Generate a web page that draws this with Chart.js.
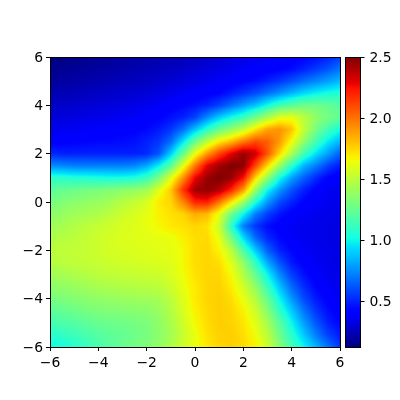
<!DOCTYPE html>
<html>
<head>
<meta charset="utf-8">
<script src="https://cdn.jsdelivr.net/npm/chart.js@4"></script>
<style>
  html, body { margin: 0; background: #fff; }
  canvas { position: absolute; left: 0; top: 0; }
</style>
</head>
<body>
<canvas id="heat" width="400" height="400"></canvas>
<canvas id="bar" width="400" height="400"></canvas>
<script>
const xVals = [-6,-5.5,-5,-4.5,-4,-3.5,-3,-2.5,-2,-1.5,-1,-.5,0,.5,1,1.5,2,2.5,3,3.5,4,4.5,5,5.5,6];
const yVals = [6,5.5,5,4.5,4,3.5,3,2.5,2,1.5,1,.5,0,-.5,-1,-1.5,-2,-2.5,-3,-3.5,-4,-4.5,-5,-5.5,-6];
// one row per y
const row6  = [.13,.14,.15,.16,.17,.18,.19,.20,.21,.22,.23,.24,.26,.28,.30,.32,.34,.36,.38,.39,.40,.42,.45,.50,.56];
const row55 = [.16,.17,.18,.19,.20,.21,.22,.23,.24,.25,.27,.28,.30,.32,.34,.36,.38,.39,.40,.42,.45,.50,.56,.62,.70];
const row5  = [.19,.20,.21,.22,.23,.24,.25,.26,.27,.29,.30,.32,.34,.36,.38,.40,.42,.45,.50,.55,.61,.68,.74,.80,.86];
const row45 = [.23,.24,.25,.26,.27,.28,.29,.30,.31,.33,.35,.37,.39,.41,.43,.48,.54,.60,.68,.76,.85,.93,.99,1.03,1.06];
const row4  = [.27,.28,.29,.30,.31,.32,.33,.34,.36,.38,.40,.43,.46,.50,.58,.68,.78,.88,1.02,1.15,1.22,1.28,1.28,1.25,1.20];
const row35 = [.31,.32,.33,.34,.35,.36,.37,.38,.40,.42,.46,.50,.58,.75,.90,1.02,1.12,1.28,1.45,1.60,1.62,1.50,1.38,1.30,1.25];
const row3  = [.35,.36,.37,.38,.39,.40,.41,.42,.44,.48,.55,.68,.88,1.08,1.25,1.38,1.52,1.72,1.88,1.92,1.80,1.52,1.30,1.15,1.02];
const row25 = [.40,.41,.42,.43,.44,.44,.45,.46,.50,.55,.68,.95,1.25,1.50,1.70,1.82,1.98,2.10,2.05,1.90,1.65,1.38,1.15,.97,.85];
const row2  = [.52,.50,.50,.50,.50,.50,.50,.50,.52,.62,.90,1.25,1.62,1.90,2.12,2.30,2.45,2.35,2.08,1.75,1.45,1.15,.95,.80,.65];
const row15 = [.75,.74,.72,.72,.72,.72,.72,.74,.82,.98,1.22,1.60,1.98,2.30,2.43,2.50,2.48,2.12,1.75,1.40,1.08,.85,.72,.58,.48];
const row1  = [1.10,1.08,1.06,1.05,1.04,1.03,1.03,1.05,1.12,1.30,1.60,1.92,2.28,2.45,2.50,2.45,2.25,1.75,1.38,1.02,.80,.65,.52,.42,.38];
const row05 = [1.22,1.25,1.27,1.29,1.31,1.33,1.36,1.38,1.42,1.60,1.78,2.15,2.43,2.47,2.40,2.20,1.90,1.40,1.00,.78,.62,.50,.42,.37,.35];
const row0  = [1.30,1.33,1.36,1.38,1.40,1.43,1.48,1.52,1.58,1.70,1.75,1.95,2.20,2.22,2.00,1.72,1.42,1.05,.78,.60,.50,.42,.38,.36,.35];
const rowm05 = [1.36,1.39,1.42,1.44,1.46,1.50,1.55,1.58,1.62,1.68,1.72,1.75,1.85,1.82,1.62,1.28,1.00,.72,.57,.47,.41,.38,.36,.35,.34];
const rowm1  = [1.42,1.44,1.47,1.50,1.53,1.55,1.58,1.60,1.63,1.66,1.70,1.72,1.75,1.72,1.55,1.10,.72,.55,.45,.40,.37,.36,.35,.34,.33];
const rowm15 = [1.46,1.48,1.50,1.52,1.55,1.57,1.59,1.60,1.61,1.62,1.63,1.68,1.73,1.74,1.62,1.30,.95,.68,.52,.44,.39,.36,.35,.34,.33];
const rowm2  = [1.50,1.51,1.52,1.53,1.55,1.57,1.58,1.59,1.60,1.61,1.62,1.66,1.73,1.75,1.68,1.50,1.18,.90,.65,.50,.43,.38,.36,.35,.33];
const rowm25 = [1.48,1.50,1.51,1.52,1.53,1.55,1.56,1.57,1.58,1.59,1.60,1.66,1.73,1.75,1.73,1.60,1.38,1.10,.82,.62,.48,.41,.37,.35,.34];
const rowm3  = [1.42,1.44,1.46,1.48,1.50,1.51,1.52,1.53,1.54,1.55,1.58,1.65,1.72,1.75,1.75,1.66,1.48,1.25,1.00,.75,.57,.46,.39,.36,.34];
const rowm35 = [1.36,1.38,1.40,1.42,1.44,1.46,1.47,1.48,1.49,1.50,1.55,1.63,1.70,1.75,1.76,1.70,1.56,1.38,1.12,.88,.67,.53,.43,.38,.35];
const rowm4  = [1.30,1.32,1.34,1.36,1.38,1.39,1.40,1.41,1.42,1.44,1.50,1.60,1.70,1.75,1.77,1.73,1.63,1.48,1.25,1.00,.78,.60,.48,.41,.36];
const rowm45 = [1.22,1.25,1.27,1.30,1.32,1.33,1.34,1.35,1.36,1.40,1.47,1.58,1.68,1.74,1.77,1.75,1.68,1.55,1.35,1.10,.90,.70,.55,.45,.39];
const rowm5  = [1.15,1.18,1.20,1.23,1.26,1.27,1.28,1.30,1.32,1.37,1.45,1.55,1.66,1.73,1.77,1.76,1.71,1.61,1.44,1.22,1.00,.80,.63,.50,.43];
const rowm55 = [1.07,1.10,1.13,1.17,1.20,1.23,1.25,1.28,1.30,1.36,1.43,1.53,1.63,1.72,1.76,1.77,1.73,1.65,1.50,1.28,1.08,.90,.72,.58,.48];
const rowm6  = [1.00,1.03,1.07,1.12,1.17,1.22,1.26,1.30,1.33,1.38,1.45,1.55,1.63,1.70,1.75,1.77,1.74,1.68,1.55,1.35,1.15,1.00,.85,.70,.55];
const rows = [row6,row55,row5,row45,row4,row35,row3,row25,row2,row15,row1,row05,row0,
  rowm05,rowm1,rowm15,rowm2,rowm25,rowm3,rowm35,rowm4,rowm45,rowm5,rowm55,rowm6];

const axisTicks = [-6,-4,-2,0,2,4,6];
const barTicks = [0.5,1.0,1.5,2.0,2.5];
const vMin = 0.13;
const vMax = 2.5;

const FONT = { family: 'DejaVu Sans', size: 13.9 };
const clamp = (a) => Math.max(0, Math.min(1, a));

function jet(f) {
  const r = f < .35 ? 0 : f < .66 ? (f - .35) / .31 : f < .89 ? 1 : 1 - (f - .89) / .11 * .5;
  const g = f < .125 ? 0 : f < .375 ? (f - .125) / .25 : f < .64 ? 1 : f < .91 ? 1 - (f - .64) / .27 : 0;
  const b = f < .11 ? .5 + f / .11 * .5 : f < .34 ? 1 : f < .65 ? 1 - (f - .34) / .31 : 0;
  return [clamp(r) * 255, clamp(g) * 255, clamp(b) * 255];
}

function sample(x, y) {
  const cx = Math.max(0, Math.min(23.999, (x + 6) * 2));
  const cy = Math.max(0, Math.min(23.999, (6 - y) * 2));
  const i = Math.floor(cx), j = Math.floor(cy);
  const u = cx - i, v = cy - j;
  return (rows[j][i] * (1 - u) + rows[j][i + 1] * u) * (1 - v)
       + (rows[j + 1][i] * (1 - u) + rows[j + 1][i + 1] * u) * v;
}

// every grid point is drawn as a small shaded tile, slightly larger than its cell
const TILE = 16;
const pxPerUnit = 290 / 12;
function makeTile(x0, y0) {
  const c = document.createElement('canvas');
  c.width = c.height = TILE;
  const g = c.getContext('2d');
  const img = g.createImageData(TILE, TILE);
  for (let j = 0; j < TILE; j++) {
    for (let i = 0; i < TILE; i++) {
      const x = x0 + (i + .5 - TILE / 2) / pxPerUnit;
      const y = y0 - (j + .5 - TILE / 2) / pxPerUnit;
      const col = jet((sample(x, y) - vMin) / (vMax - vMin));
      const k = (j * TILE + i) * 4;
      img.data[k] = col[0];
      img.data[k + 1] = col[1];
      img.data[k + 2] = col[2];
      img.data[k + 3] = 255;
    }
  }
  g.putImageData(img, 0, 0);
  return c;
}

const cells = [];
yVals.forEach((y, j) => xVals.forEach((x, i) => {
  cells.push({ x: x, y: y, v: rows[j][i], tile: makeTile(x, y) });
}));

const frame = {
  id: 'frame',
  afterDraw(chart) {
    const { ctx, chartArea: a } = chart;
    const l = Math.floor(a.left) + .5, t = Math.floor(a.top) + .5;
    const r = Math.floor(a.right) + .5, b = Math.floor(a.bottom) + .5;
    ctx.save();
    ctx.strokeStyle = '#000';
    ctx.lineWidth = 1;
    ctx.strokeRect(l, t, r - l, b - t);
    ctx.restore();
  }
};

function minusLabel(v) {
  return String(v).replace('-', '\u2212');
}

new Chart(document.getElementById('heat'), {
  type: 'scatter',
  data: {
    datasets: [{
      data: cells,
      clip: 0,
      pointRadius: 1,
      pointStyle: (c) => c.raw.tile,
      borderWidth: 0
    }]
  },
  options: {
    responsive: false,
    animation: false,
    events: [],
    layout: { padding: { left: 0, top: 57, right: 60, bottom: 0 } },
    plugins: { legend: { display: false }, tooltip: { enabled: false } },
    scales: {
      x: {
        type: 'linear', min: -6, max: 6,
        afterFit: (s) => { s.height = 53; },
        afterBuildTicks: (s) => { s.ticks = axisTicks.map((v) => ({ value: v })); },
        grid: { drawOnChartArea: false, tickLength: 4, tickColor: '#000', tickWidth: 1 },
        border: { color: '#000' },
        ticks: { color: '#000', font: FONT, maxRotation: 0, padding: 4, callback: minusLabel }
      },
      y: {
        type: 'linear', min: -6, max: 6,
        afterFit: (s) => { s.width = 50; },
        afterBuildTicks: (s) => { s.ticks = axisTicks.map((v) => ({ value: v })); },
        grid: { drawOnChartArea: false, tickLength: 4, tickColor: '#000', tickWidth: 1 },
        border: { color: '#000' },
        ticks: { color: '#000', font: FONT, padding: 3, labelOffset: 1, callback: minusLabel }
      }
    }
  },
  plugins: [frame]
});

function getGradient(ctx, area) {
  const grad = ctx.createLinearGradient(0, area.bottom, 0, area.top);
  for (let i = 0; i <= 100; i++) {
    const col = jet(i / 100);
    grad.addColorStop(i / 100, `rgb(${col[0]},${col[1]},${col[2]})`);
  }
  return grad;
}

new Chart(document.getElementById('bar'), {
  type: 'bar',
  data: {
    labels: ['cb'],
    datasets: [{
      data: [[vMin, vMax]],
      categoryPercentage: 1,
      barPercentage: 1,
      backgroundColor: (c) => {
        const { ctx, chartArea } = c.chart;
        if (!chartArea) return null;
        return getGradient(ctx, chartArea);
      }
    }]
  },
  options: {
    responsive: false,
    animation: false,
    events: [],
    layout: { padding: { left: 345, top: 57, right: 0, bottom: 53 } },
    plugins: { legend: { display: false }, tooltip: { enabled: false } },
    scales: {
      x: { display: false },
      y: {
        position: 'right',
        min: vMin, max: vMax,
        afterFit: (s) => { s.width = 39.5; },
        afterBuildTicks: (s) => { s.ticks = barTicks.map((v) => ({ value: v })); },
        grid: { drawOnChartArea: false, tickLength: 4, tickColor: '#000', tickWidth: 1 },
        border: { color: '#000' },
        ticks: { color: '#000', font: FONT, padding: 5, labelOffset: 1, callback: (v) => v.toFixed(1) }
      }
    }
  },
  plugins: [frame]
});
</script>
</body>
</html>
